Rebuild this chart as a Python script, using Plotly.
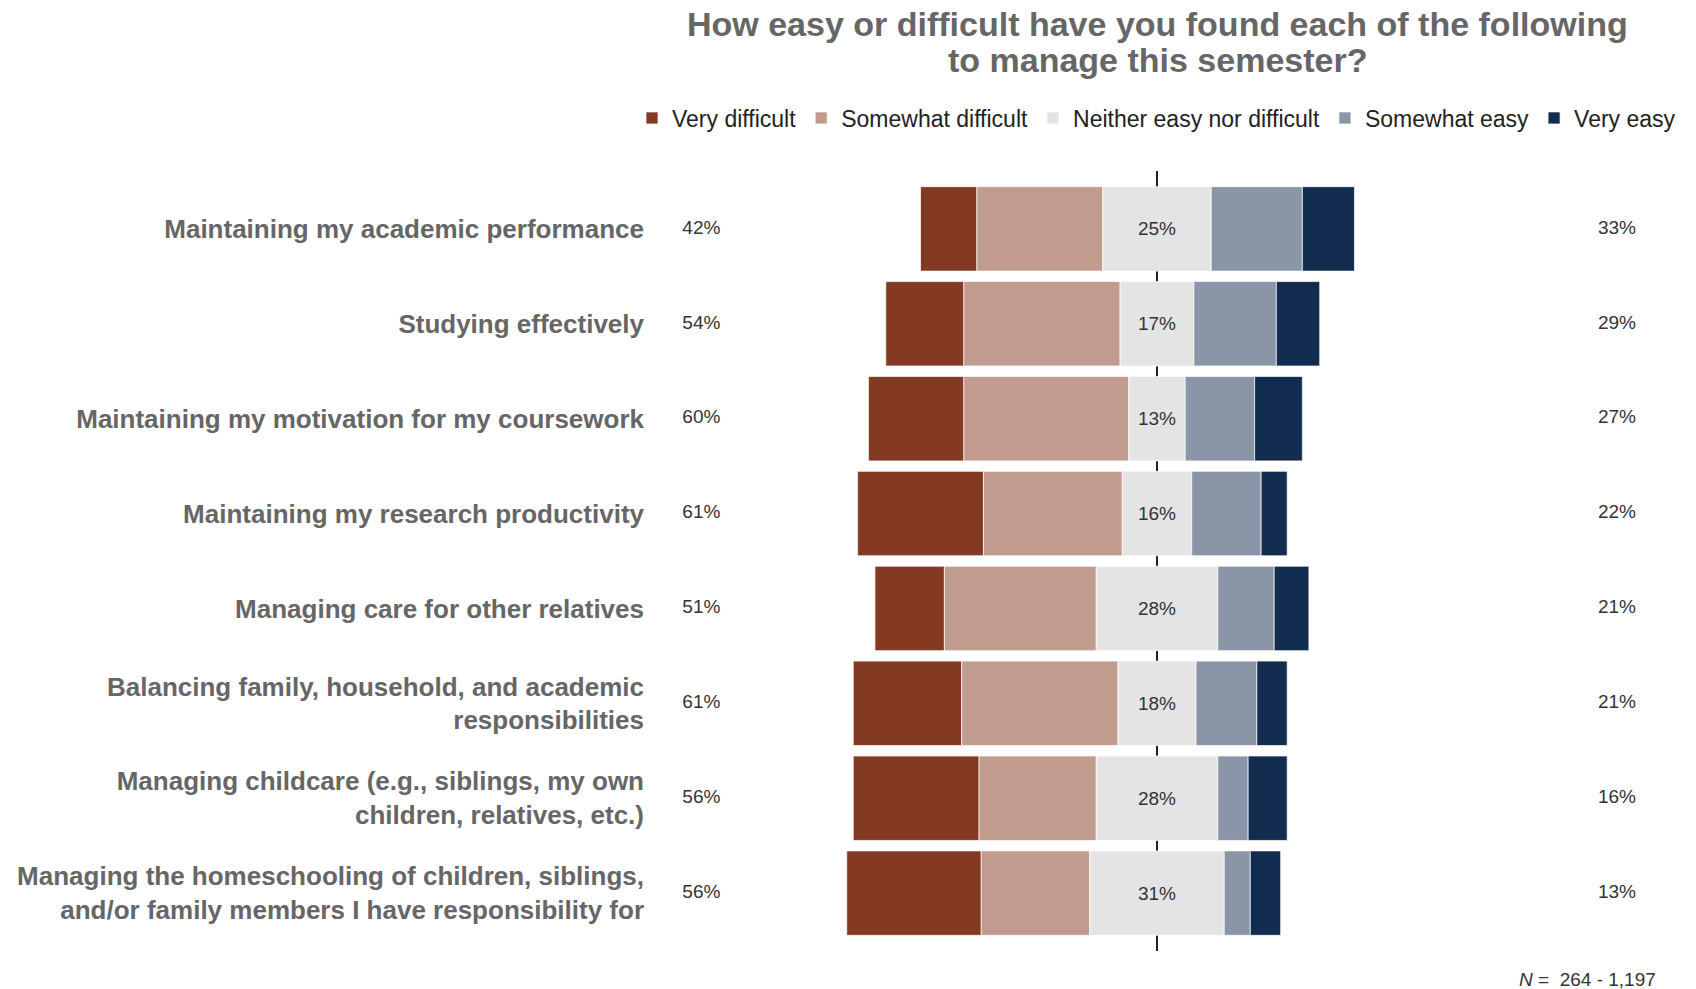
import plotly.graph_objects as go

categories = [
    "Maintaining my academic performance",
    "Studying effectively",
    "Maintaining my motivation for my coursework",
    "Maintaining my research productivity",
    "Managing care for other relatives",
    "Balancing family, household, and academic<br>responsibilities",
    "Managing childcare (e.g., siblings, my own<br>children, relatives, etc.)",
    "Managing the homeschooling of children, siblings,<br>and/or family members I have responsibility for",
]
very_difficult = [13, 18, 22, 29, 16, 25, 29, 31]
somewhat_difficult = [29, 36, 38, 32, 35, 36, 27, 25]
neither = [25, 17, 13, 16, 28, 18, 28, 31]
somewhat_easy = [21, 19, 16, 16, 13, 14, 7, 6]
very_easy = [12, 10, 11, 6, 8, 7, 9, 7]
difficult_total = [42, 54, 60, 61, 51, 61, 56, 56]
easy_total = [33, 29, 27, 22, 21, 21, 16, 13]

series_names = ["Very difficult", "Somewhat difficult", "Neither easy nor difficult",
                "Somewhat easy", "Very easy"]
colors = ["#843A22", "#C29B8F", "#E4E4E4", "#8A96A8", "#122C4F"]
title_lines = ["How easy or difficult have you found each of the following",
               "to manage this semester?"]

FONT = "Liberation Sans, Arial, sans-serif"
GRAY = "#666666"
DARK = "#333333"

# bases for diverging stack (neutral centred on zero)
half = [n / 2 for n in neither]
base_sd = [-h - sd for h, sd in zip(half, somewhat_difficult)]
base_vd = [b - vd for b, vd in zip(base_sd, very_difficult)]
base_n = [-h for h in half]
base_se = list(half)
base_ve = [h + se for h, se in zip(half, somewhat_easy)]

vals = [very_difficult, somewhat_difficult, neither, somewhat_easy, very_easy]
bases = [base_vd, base_sd, base_n, base_se, base_ve]

fig = go.Figure()
for i, (name, v, b, c) in enumerate(zip(series_names, vals, bases, colors)):
    kw = {}
    if i == 2:
        kw = dict(text=[f"{x}%" for x in v], textposition="inside",
                  insidetextanchor="middle", textangle=0,
                  textfont=dict(family=FONT, size=19, color=DARK),
                  constraintext="none")
    fig.add_trace(go.Bar(
        y=categories, x=v, base=b, orientation="h", name=name,
        marker=dict(color=c, line=dict(color="rgba(255,255,255,0.7)", width=1)),
        width=0.89, hoverinfo="skip", **kw))

fig.add_trace(go.Scatter(
    y=categories, x=[-105] * len(categories), mode="text",
    text=[f"{x}%" for x in difficult_total], showlegend=False,
    textfont=dict(family=FONT, size=19, color=DARK), hoverinfo="skip"))
fig.add_trace(go.Scatter(
    y=categories, x=[106] * len(categories), mode="text",
    text=[f"{x}%" for x in easy_total], showlegend=False,
    textfont=dict(family=FONT, size=19, color=DARK), hoverinfo="skip"))

L, R, T, B = 663, 61, 163, 46
PH = 989 - T - B
PW = 1696 - L - R


def py(pix):
    return (989 - B - pix) / PH


def px(pix):
    return (pix - L) / PW


annotations = []
for line, ypix in zip(title_lines, [16, 52]):
    annotations.append(dict(text=f"<b>{line}</b>", xref="paper", yref="paper",
                            x=0.5, y=py(ypix), xanchor="center", yanchor="middle",
                            borderpad=0, showarrow=False,
                            font=dict(family=FONT, size=34, color=GRAY)))
annotations.append(dict(text="<i>N</i> =  264 - 1,197", xref="paper", yref="paper",
                        x=px(1650), y=py(971), xanchor="right", yanchor="middle",
                        showarrow=False, font=dict(family=FONT, size=19, color=DARK)))

fig.update_layout(
    width=1696, height=989,
    barmode="overlay",
    paper_bgcolor="white", plot_bgcolor="white",
    margin=dict(l=L, r=R, t=T, b=B, autoexpand=False),
    legend=dict(orientation="h", x=px(624), xanchor="left", y=py(110),
                yanchor="middle", font=dict(family=FONT, size=23, color="#222222"),
                traceorder="normal", bgcolor="rgba(0,0,0,0)"),
    font=dict(family=FONT),
    annotations=annotations,
)
fig.update_xaxes(range=[-112, 112], showgrid=False, zeroline=True, zerolinecolor="#222222",
                 zerolinewidth=1.5, showticklabels=False, ticks="", fixedrange=True)
fig.update_yaxes(type="category", categoryorder="array", categoryarray=categories,
                 range=[7.61, -0.61], showgrid=False, zeroline=False, ticks="",
                 ticklabelstandoff=26,
                 tickfont=dict(family=FONT, size=26, color=GRAY, weight="bold"))

fig.write_html("out.html")
